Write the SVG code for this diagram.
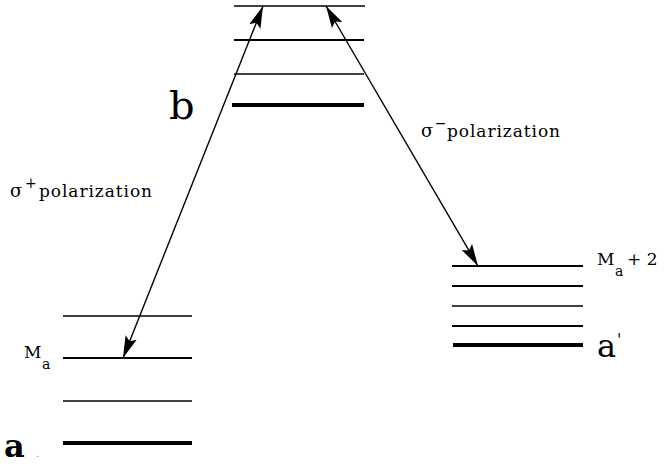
<svg xmlns="http://www.w3.org/2000/svg" width="667" height="466" viewBox="0 0 667 466">
<defs>
<style>
.lv{stroke:#000;fill:none}
.t1{stroke-width:1.3}
.t2{stroke-width:2.2}
.t3{stroke-width:4}
.arr{stroke:#000;stroke-width:1.4;fill:none;marker-start:url(#ah);marker-end:url(#ah)}
text{font-family:"DejaVu Serif","Liberation Serif",serif;fill:#000}
</style>
<marker id="ah" markerUnits="userSpaceOnUse" markerWidth="24" markerHeight="14" refX="22" refY="7" orient="auto-start-reverse" viewBox="0 0 24 14">
<path d="M0,1 L22,7 L0,13 L4,7 Z" fill="#000"/>
</marker>
</defs>
<rect width="667" height="466" fill="#fff"/>
<g id="level-b">
<line class="lv t1" x1="234" y1="6" x2="365" y2="6"/>
<line class="lv t2" x1="234" y1="40" x2="364" y2="40"/>
<line class="lv t1" x1="234" y1="74" x2="364" y2="74"/>
<line class="lv t3" x1="232" y1="105" x2="364" y2="105"/>
<text x="169" y="119" font-size="40">b</text>
</g>
<g id="level-a">
<line class="lv t1" x1="63" y1="316" x2="192" y2="316"/>
<line class="lv t2" x1="63" y1="358" x2="192" y2="358"/>
<line class="lv t1" x1="63" y1="401" x2="192" y2="401"/>
<line class="lv t3" x1="63" y1="443" x2="192" y2="443"/>
<text x="24" y="358" font-size="17">M</text>
<text x="42" y="369" font-size="14">a</text>
<text x="4" y="457" font-size="32" font-weight="bold">a</text>
<text x="36" y="457" font-size="10" style="fill:#888">.</text>
</g>
<g id="level-a-prime">
<line class="lv t2" x1="452" y1="266" x2="583" y2="266"/>
<line class="lv t2" x1="452" y1="286" x2="583" y2="286"/>
<line class="lv t1" x1="452" y1="306" x2="583" y2="306"/>
<line class="lv t2" x1="452" y1="326" x2="583" y2="326"/>
<line class="lv t3" x1="453" y1="345" x2="583" y2="345"/>
<text x="597" y="265" font-size="17">M</text>
<text x="615" y="276" font-size="14">a</text>
<text x="627" y="265" font-size="17">+ 2</text>
<text x="597" y="357" font-size="32">a</text>
<text x="617" y="345" font-size="16">'</text>
</g>
<g id="connectors">
<line class="arr" x1="123" y1="358" x2="263" y2="6"/>
<line class="arr" x1="326" y1="6" x2="478" y2="266"/>
</g>
<g id="labels">
<text x="10" y="197" font-size="18">σ</text>
<text x="25" y="188" font-size="14">+</text>
<text x="39" y="197" font-size="17" textLength="113" lengthAdjust="spacing">polarization</text>
<text x="421" y="137" font-size="18">σ</text>
<text x="435" y="128" font-size="14">−</text>
<text x="447" y="137" font-size="17" textLength="113" lengthAdjust="spacing">polarization</text>
</g>
</svg>
